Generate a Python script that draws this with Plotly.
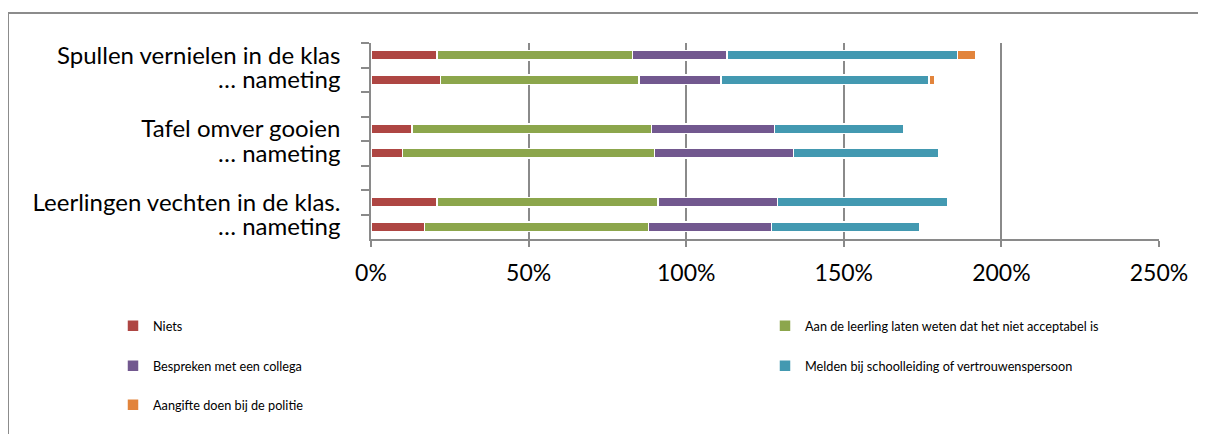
import plotly.graph_objects as go

# rows of the chart, top to bottom (gaps between the three behaviours)
rows = ["Spullen vernielen in de klas", "… nameting",
        "Tafel omver gooien", "… nameting\u200b",
        "Leerlingen vechten in de klas.", "… nameting\u200b\u200b"]
gaps = ["\u200b", "\u200b\u200b"]
row_order = rows[:2] + [gaps[0]] + rows[2:4] + [gaps[1]] + rows[4:]

niets = [0.21, 0.22, 0.13, 0.10, 0.21, 0.17]
aan_de_leerling = [0.62, 0.63, 0.76, 0.80, 0.70, 0.71]
bespreken = [0.30, 0.26, 0.39, 0.44, 0.38, 0.39]
melden = [0.73, 0.66, 0.41, 0.46, 0.54, 0.47]
aangifte = [0.06, 0.02, None, None, None, None]

# name, values, colour, legend slot (text x, text y in page px)
series = [
    ("Niets", niets, "#AE4643", (153, 326)),
    ("Aan de leerling laten weten dat het niet acceptabel is", aan_de_leerling, "#8CA64C", (805, 326)),
    ("Bespreken met een collega", bespreken, "#72588F", (153, 366)),
    ("Melden bij schoolleiding of vertrouwenspersoon", melden, "#4399B1", (805, 366)),
    ("Aangifte doen bij de politie", aangifte, "#E2843C", (153, 405)),
]

FONT = "Lato, 'Open Sans', sans-serif"
GRID = "#8A8A8A"
BODY = 8  # default page margin around the plot div

# plot area in page pixels: x 371..1159, y 43..239
def px_x(p):
    return (p - 371) / 788

def px_y(p):
    return (239 - p) / 196

fig = go.Figure()
legends = {}
for i, (name, vals, color, (lx, ly)) in enumerate(series):
    key = "legend" if i == 0 else "legend%d" % (i + 1)
    fig.add_trace(go.Bar(
        y=rows, x=vals, name=name, orientation="h",
        marker=dict(color=color, line=dict(color="white", width=1.5)),
        legend=key, showlegend=True,
    ))
    legends[key] = dict(x=px_x(lx - 40), y=px_y(ly), xanchor="left", yanchor="middle",
                        font=dict(family=FONT, size=12.7, color="#000000"),
                        bgcolor="rgba(0,0,0,0)")

fig.update_layout(
    width=1206 - BODY, height=434 - BODY,
    margin=dict(l=371 - BODY, r=47, t=43 - BODY, b=195, autoexpand=False),
    showlegend=True,
    paper_bgcolor="white", plot_bgcolor="white",
    barmode="stack", bargap=0.6,
    font=dict(family=FONT, color="#000000"),
    xaxis=dict(
        range=[0, 2.5], tickvals=[0, 0.5, 1, 1.5, 2, 2.5], tickformat=".0%",
        showgrid=True, gridcolor=GRID, gridwidth=1.5, zeroline=False,
        showline=True, linecolor=GRID, linewidth=1.5,
        ticks="outside", ticklen=6, tickcolor=GRID, tickwidth=1.5,
        ticklabelstandoff=7, tickfont=dict(family=FONT, size=23),
        automargin=False,
    ),
    yaxis=dict(
        type="category", categoryorder="array", categoryarray=row_order,
        autorange="reversed", tickson="boundaries",
        tickmode="linear", tick0=0, dtick=1,
        ticks="outside", ticklen=8, tickcolor=GRID, tickwidth=1.5,
        showline=True, linecolor=GRID, linewidth=1.5, showgrid=False,
        ticklabelstandoff=24, tickfont=dict(family=FONT, size=24),
        automargin=False,
    ),
    **legends,
)

# outer chart frame (cut off at the right and bottom of the picture)
fig.add_shape(type="rect", xref="paper", yref="paper",
              x0=px_x(8), x1=px_x(1215), y0=px_y(445), y1=px_y(13),
              line=dict(color="#8C8C8C", width=2), fillcolor="rgba(0,0,0,0)",
              layer="below")

fig.write_html("out.html")
